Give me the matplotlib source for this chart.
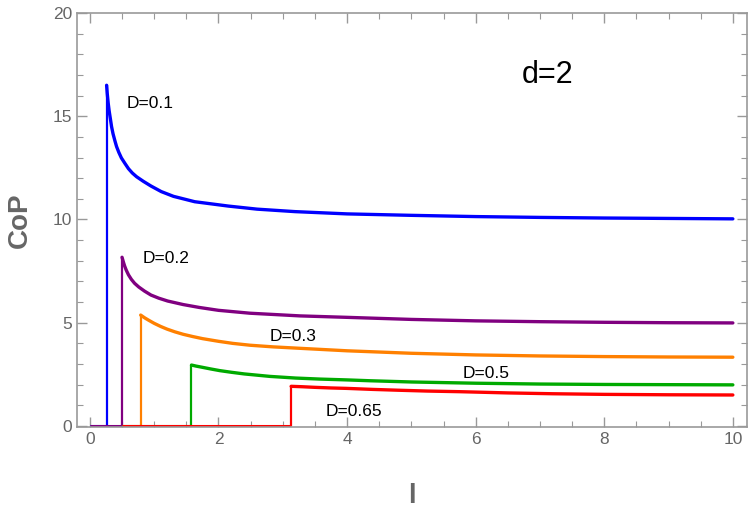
import matplotlib.pyplot as plt
from matplotlib.ticker import MultipleLocator

# values
D_labels = ["D=0.1", "D=0.2", "D=0.3", "D=0.5", "D=0.65"]
colors = ["#0000ff", "#800080", "#ff8000", "#00aa00", "#ff0000"]

# threshold l where each curve jumps up, and the peak value there
l_jump = [0.26, 0.50, 0.79, 1.58, 3.13]
cop_peak = [16.5, 8.17, 5.37, 2.95, 1.92]
# where the zero part of each curve begins
l_start = [0.0, 0.0, 0.5, 0.5, 0.5]

l_blue = [0.26, 0.27, 0.285, 0.30, 0.32, 0.337, 0.36, 0.39, 0.415, 0.45, 0.49, 0.544, 0.60, 0.66,
          0.726, 0.83, 0.95, 1.11, 1.30, 1.63, 2.15, 2.6, 3.19, 4.0, 5.0, 6.0, 7.0, 8.0, 9.0, 10.0]
cop_blue = [16.5, 16.1, 15.63, 15.25, 14.85, 14.5, 14.15, 13.8, 13.53, 13.25, 12.98, 12.72, 12.46, 12.25,
            12.07, 11.85, 11.62, 11.35, 11.12, 10.86, 10.65, 10.5, 10.38, 10.27, 10.2, 10.14, 10.1, 10.07, 10.05, 10.03]

l_purple = [0.50, 0.52, 0.54, 0.565, 0.60, 0.645, 0.695, 0.76, 0.85, 0.95, 1.07, 1.21, 1.45, 1.7, 2.0,
            2.49, 3.27, 4.0, 5.0, 6.0, 7.0, 8.0, 9.0, 10.0]
cop_purple = [8.17, 7.95, 7.75, 7.55, 7.32, 7.1, 6.91, 6.73, 6.53, 6.34, 6.19, 6.05, 5.88, 5.74, 5.6,
              5.46, 5.33, 5.26, 5.16, 5.09, 5.05, 5.02, 5.0, 4.99]

l_orange = [0.79, 0.85, 0.92, 1.0, 1.1, 1.2, 1.32, 1.45, 1.6, 1.75, 2.0, 2.22, 2.49, 2.85, 3.27, 4.0,
            5.0, 6.0, 7.0, 8.0, 9.0, 10.0]
cop_orange = [5.37, 5.24, 5.11, 4.97, 4.82, 4.69, 4.56, 4.44, 4.33, 4.23, 4.1, 4.0, 3.91, 3.83, 3.76, 3.64,
              3.52, 3.44, 3.39, 3.36, 3.34, 3.33]

l_green = [1.58, 1.65, 1.75, 1.88, 2.02, 2.2, 2.40, 2.60, 2.80, 3.20, 3.58, 4.0, 4.35, 5.0, 6.0, 7.0,
           8.0, 9.0, 10.0]
cop_green = [2.95, 2.9, 2.84, 2.76, 2.68, 2.6, 2.52, 2.46, 2.40, 2.32, 2.27, 2.23, 2.19, 2.13, 2.07, 2.03,
             2.01, 2.0, 1.99]

l_red = [3.13, 3.3, 3.50, 3.75, 3.99, 4.4, 4.80, 5.25, 5.75, 6.50, 7.2, 8.0, 9.0, 10.0]
cop_red = [1.92, 1.9, 1.87, 1.84, 1.82, 1.77, 1.73, 1.69, 1.66, 1.6, 1.56, 1.53, 1.51, 1.50]

curves_l = [l_blue, l_purple, l_orange, l_green, l_red]
curves_cop = [cop_blue, cop_purple, cop_orange, cop_green, cop_red]

# label positions (l, CoP)
label_x = [0.93, 1.19, 3.16, 6.16, 4.10]
label_y = [15.6, 8.12, 4.33, 2.52, 0.69]

grey = "#999999"
text_grey = "#666666"

fig = plt.figure(figsize=(7.5, 5.11), dpi=100)
ax = fig.add_axes([0.1027, 0.1644, 0.8933, 0.8102])

for i in range(len(D_labels)):
    c = colors[i]
    # zero part before the jump
    ax.plot([l_start[i], l_jump[i]], [0, 0], color=c, lw=2.2, solid_capstyle="butt")
    # vertical jump
    ax.vlines(l_jump[i], 0, cop_peak[i], color=c, lw=1.6)
    # decaying branch
    ax.plot(curves_l[i], curves_cop[i], color=c, lw=2.4, solid_capstyle="round", solid_joinstyle="round")
    ax.text(label_x[i], label_y[i], D_labels[i], fontsize=12.5, ha="center", va="center",
            family="Liberation Sans")

ax.text(7.12, 17.0, "d=2", fontsize=22, ha="center", va="center", family="Liberation Sans")

ax.set_xlim(-0.2, 10.22)
ax.set_ylim(-0.05, 20)

ax.xaxis.set_major_locator(MultipleLocator(2))
ax.xaxis.set_minor_locator(MultipleLocator(0.5))
ax.yaxis.set_major_locator(MultipleLocator(5))
ax.yaxis.set_minor_locator(MultipleLocator(1))

ax.tick_params(which="both", direction="in", top=True, right=True, color=grey,
               labelcolor=text_grey, labelsize=12.5)
ax.tick_params(which="major", length=7, width=1)
ax.tick_params(which="minor", length=4, width=0.8)
for lab in ax.get_xticklabels() + ax.get_yticklabels():
    lab.set_family("Liberation Sans")
for s in ax.spines.values():
    s.set_color(grey)
    s.set_linewidth(1.2)

ax.set_xlabel("l", fontsize=20, fontweight="bold", color=text_grey, family="Liberation Sans", labelpad=26)
ax.set_ylabel("CoP", fontsize=20, fontweight="bold", color=text_grey, family="Liberation Sans", labelpad=14)

plt.savefig("out.png", dpi=100)
